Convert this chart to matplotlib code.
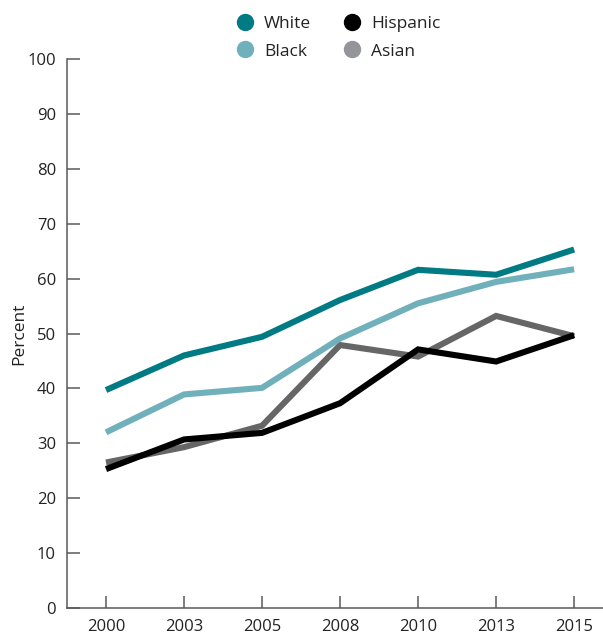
import matplotlib
matplotlib.use("Agg")
import matplotlib.pyplot as plt
from matplotlib.lines import Line2D

plt.rcParams['font.family'] = ['Open Sans', 'DejaVu Sans']

years = ["2000", "2003", "2005", "2008", "2010", "2013", "2015"]
white = [39.7, 46.0, 49.4, 56.1, 61.6, 60.7, 65.3]
black = [32.0, 38.9, 40.1, 49.1, 55.5, 59.4, 61.7]
hispanic = [25.3, 30.7, 31.9, 37.3, 47.1, 44.9, 49.7]
asian = [26.5, 29.3, 33.2, 47.9, 45.8, 53.2, 49.5]
y_ticks = [0, 10, 20, 30, 40, 50, 60, 70, 80, 90, 100]

c_white = "#007b84"
c_black = "#6fb0ba"
c_hisp = "#000000"
c_asian_line = "#666666"
c_asian_key = "#939598"
axis_col = "#5a5a5a"
text_col = "#222222"

fig = plt.figure(figsize=(6.03, 6.35), dpi=100)
ax = fig.add_axes([67/603, 1 - 608/635, 1 - 67/603, (608 - 59)/635])

x = list(range(len(years)))
lw = 4.4
ax.plot(x, asian, color=c_asian_line, lw=lw, zorder=2, solid_joinstyle='miter', solid_capstyle='butt')
ax.plot(x, hispanic, color=c_hisp, lw=lw, zorder=3, solid_joinstyle='miter', solid_capstyle='butt')
ax.plot(x, black, color=c_black, lw=lw, zorder=4, solid_joinstyle='miter', solid_capstyle='butt')
ax.plot(x, white, color=c_white, lw=lw, zorder=5, solid_joinstyle='miter', solid_capstyle='butt')

ax.set_xlim(-0.5, 6.37)
ax.set_ylim(0, 100)
ax.set_xticks(x)
ax.set_xticklabels(years)
ax.set_yticks(y_ticks)

for s in ['top', 'right']:
    ax.spines[s].set_visible(False)
for s in ['left', 'bottom']:
    ax.spines[s].set_color(axis_col)
    ax.spines[s].set_linewidth(1.1)

ax.tick_params(axis='both', direction='in', length=9, width=1.1, color=axis_col,
               labelsize=12, labelcolor=text_col)
ax.tick_params(axis='x', pad=8)
ax.tick_params(axis='y', pad=8)

ax.set_ylabel("Percent", fontsize=12.5, color=text_col)
ax.yaxis.set_label_coords(-40/536, 0.5)

handles = [
    Line2D([], [], ls='none', marker='o', ms=11.5, color=c_white, label="White"),
    Line2D([], [], ls='none', marker='o', ms=11.5, color=c_black, label="Black"),
    Line2D([], [], ls='none', marker='o', ms=11.5, color=c_hisp, label="Hispanic"),
    Line2D([], [], ls='none', marker='o', ms=11.5, color=c_asian_key, label="Asian"),
]
leg = fig.legend(handles=handles, ncol=2, loc='center', bbox_to_anchor=(338.5/603, 1 - 37.5/635),
                 frameon=False, fontsize=12.5, handletextpad=0.6, columnspacing=1.85,
                 labelspacing=0.68, handlelength=1.0, borderaxespad=0, borderpad=0)
for t in leg.get_texts():
    t.set_color(text_col)

fig.savefig("out.png", dpi=100)
